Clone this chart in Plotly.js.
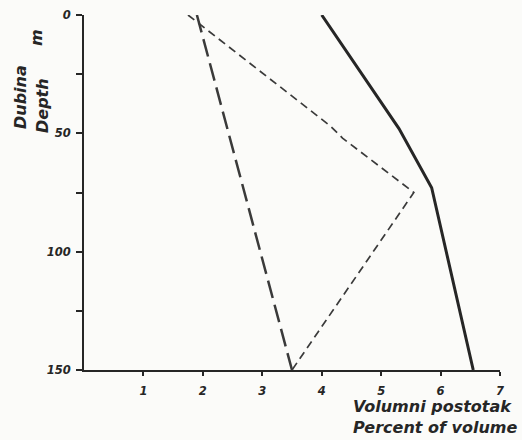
<!DOCTYPE html>
<html><head><meta charset="utf-8">
<script src="https://cdn.plot.ly/plotly-3.0.1.min.js"></script>
<style>body{margin:0;background:#fbfbf9}</style>
</head><body><div id="chart" style="width:522px;height:440px"></div>
<script>
// Depth (m) and volume percent
const solidX = [4.0, 5.3, 5.85, 6.55];
const solidY = [0, 48, 73, 150];
const longDashX = [1.9, 3.5];
const longDashY = [0, 150];
const shortDashX = [1.75, 4.15, 4.35, 5.55, 3.5];
const shortDashY = [0, 47, 52, 75, 150];
const xTicks = [1, 2, 3, 4, 5, 6, 7];
const yTicks = [0, 25, 50, 75, 100, 125, 150];
const yTickText = ['0', '', '50', '', '100', '', '150'];

const ink = '#262626';
const tf = {family: 'DejaVu Sans', size: 11.5, color: ink, weight: 'bold', style: 'italic'};
const af = {family: 'DejaVu Sans', size: 16, color: ink, weight: 'bold', style: 'italic'};

const traces = [
  {x: solidX, y: solidY, mode: 'lines', line: {color: ink, width: 3}},
  {x: longDashX, y: longDashY, mode: 'lines', line: {color: '#3a3a3a', width: 2.5, dash: '18px,7px'}},
  {x: shortDashX, y: shortDashY, mode: 'lines', line: {color: '#3a3a3a', width: 1.7, dash: '8px,5px'}}
];

const L = 84, W = 416, T = 15, H = 355;
const px = p => (p - L) / W;
const py = p => 1 - (p - T) / H;
const ann = (text, x, y, rot) => ({text, xref: 'paper', yref: 'paper', x: px(x), y: py(y),
  xanchor: 'center', yanchor: 'middle', textangle: rot, showarrow: false, font: af});

const layout = {
  width: 522, height: 440,
  margin: {l: L, r: 522 - L - W, t: T, b: 440 - T - H},
  paper_bgcolor: '#fbfbf9', plot_bgcolor: '#fbfbf9',
  showlegend: false,
  xaxis: {range: [0, 7], tickvals: xTicks, ticktext: xTicks.map(String), showgrid: false, zeroline: false,
    showline: true, linecolor: ink, linewidth: 2, ticks: 'outside', ticklen: 4, tickwidth: 2, tickcolor: ink,
    tickfont: tf, ticklabelstandoff: 5},
  yaxis: {range: [150, 0], tickvals: yTicks, ticktext: yTickText, showgrid: false, zeroline: false,
    showline: true, linecolor: ink, linewidth: 2, ticks: 'outside', ticklen: 6, tickwidth: 2, tickcolor: ink,
    tickfont: tf, ticklabelstandoff: 3},
  annotations: [
    ann('Dubina', 20, 97, -90),
    ann('m', 36, 38, -90),
    ann('Depth', 42, 106, -90),
    {text: 'Volumni postotak', xref: 'paper', yref: 'paper', x: px(514), y: py(406), xanchor: 'right', yanchor: 'middle', showarrow: false, font: af},
    {text: 'Percent of volume', xref: 'paper', yref: 'paper', x: px(519), y: py(427), xanchor: 'right', yanchor: 'middle', showarrow: false, font: af}
  ]
};
Plotly.newPlot('chart', traces, layout, {displayModeBar: false, staticPlot: true});
</script></body></html>
